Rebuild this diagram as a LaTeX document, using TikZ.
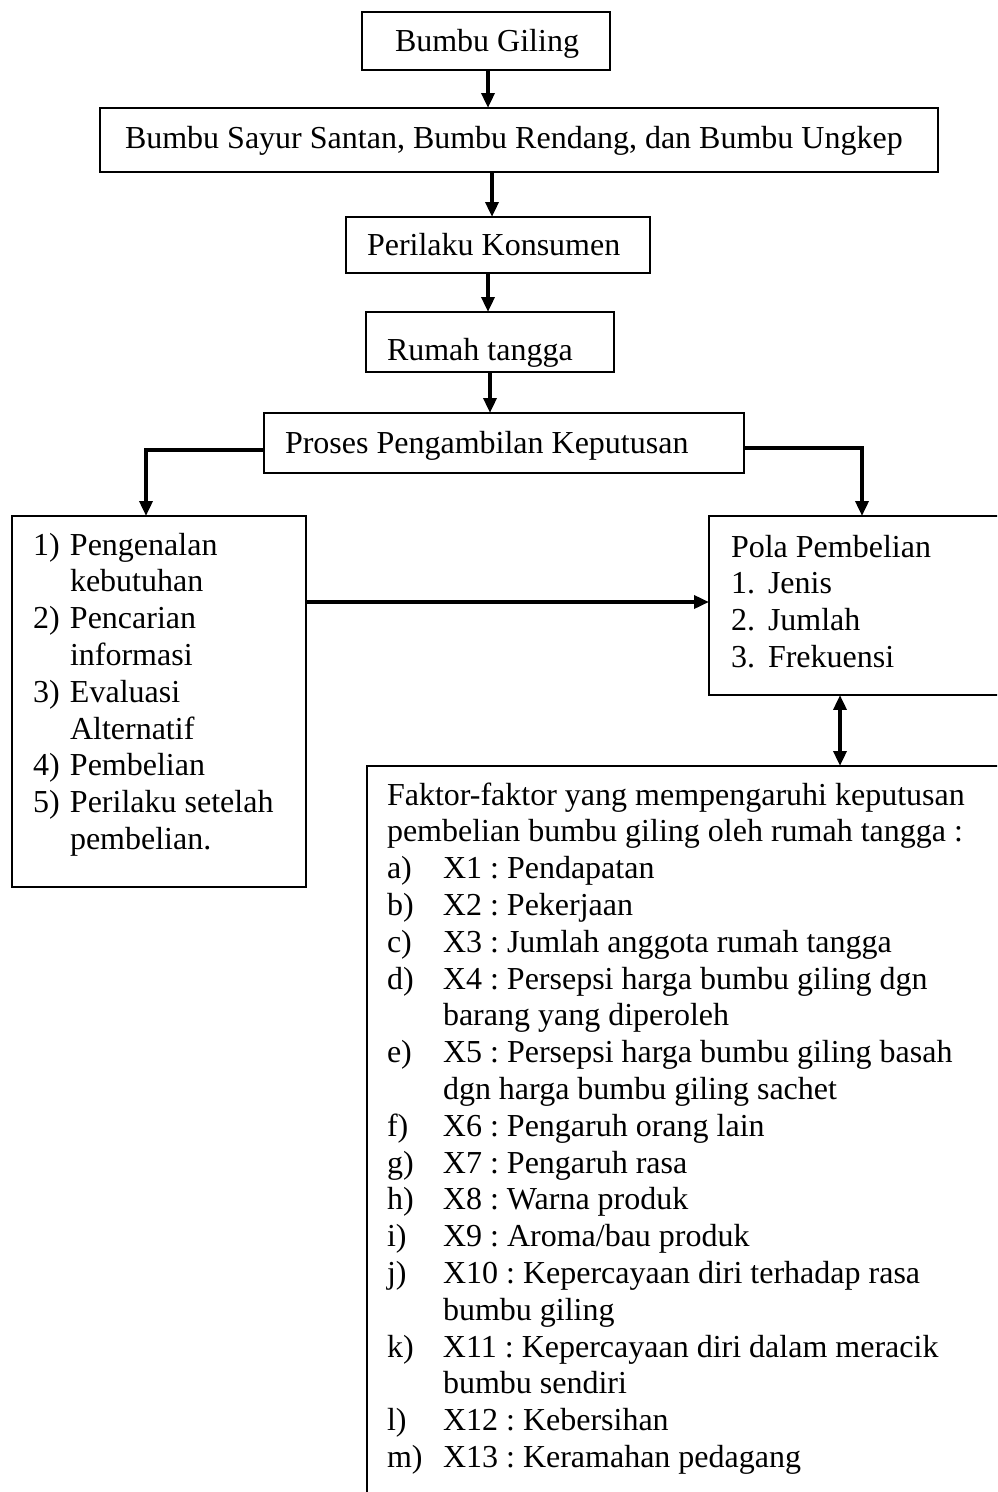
\documentclass[tikz,border=0pt]{standalone}
\usepackage{fontspec}
\setmainfont{Liberation Serif}
\usetikzlibrary{arrows.meta}
\frenchspacing
\begin{document}
\begin{tikzpicture}[x=0.375pt,y=-0.375pt,
  box/.style={draw,line width=0.8pt,inner sep=0pt,outer sep=0pt},
  txt/.style={inner sep=0pt,outer sep=0pt,anchor=base west,font=\fontsize{12}{13.8}\selectfont},
  arr/.style={line width=1.5pt,-{Triangle[length=5.6pt,width=4.8pt]}},
  darr/.style={line width=1.5pt,{Triangle[length=5.6pt,width=4.8pt]}-{Triangle[length=5.6pt,width=4.8pt]}}]
\useasboundingbox (0,0) rectangle (997,1492);
\fill[white] (0,0) rectangle (997,1492);
\clip (0,0) rectangle (997,1492);
% boxes
\node[box,minimum width=93pt,minimum height=21.75pt] (b1) at (486,41) {};
\node[box,minimum width=314.25pt,minimum height=24pt] (b2) at (519,140) {};
\node[box,minimum width=114pt,minimum height=21pt] (b3) at (498,245) {};
\node[box,minimum width=93pt,minimum height=22.5pt] (b4) at (490,342) {};
\node[box,minimum width=180pt,minimum height=22.5pt] (b5) at (504,443) {};
\node[box,minimum width=110.25pt,minimum height=139.1pt] (bl) at (159,701.5) {};
\node[box,minimum width=146.6pt,minimum height=67.1pt] (bp) at (904.5,605.5) {};
\node[box,minimum width=274.9pt,minimum height=312.75pt] (bb) at (733.5,1183) {};
% texts
\node[txt] (t1) at (395,52) {Bumbu Giling};
\node[txt] (t2) at (125,148) {Bumbu Sayur Santan, Bumbu Rendang, dan Bumbu Ungkep};
\node[txt] (t3) at (367,255) {Perilaku Konsumen};
\node[txt] (t4) at (387,360) {Rumah tangga};
\node[txt] (t5) at (285,453) {Proses Pengambilan Keputusan};
\node[txt] (tl) at (33,555) {\begin{tabular}[t]{@{}p{13.875pt}@{}l@{}}
1) & Pengenalan\\
 & kebutuhan\\
2) & Pencarian\\
 & informasi\\
3) & Evaluasi\\
 & Alternatif\\
4) & Pembelian\\
5) & Perilaku setelah\\
 & pembelian.
\end{tabular}};
\node[txt] (tp) at (731,557) {\begin{tabular}[t]{@{}p{13.875pt}@{}l@{}}
\multicolumn{2}{@{}l@{}}{Pola Pembelian}\\
1. & Jenis\\
2. & Jumlah\\
3. & Frekuensi
\end{tabular}};
\node[txt] (tb) at (387,805) {\begin{tabular}[t]{@{}p{21pt}@{}l@{}}
\multicolumn{2}{@{}l@{}}{Faktor-faktor yang mempengaruhi keputusan}\\
\multicolumn{2}{@{}l@{}}{pembelian bumbu giling oleh rumah tangga :}\\
a) & X1 : Pendapatan\\
b) & X2 : Pekerjaan\\
c) & X3 : Jumlah anggota rumah tangga\\
d) & X4 : Persepsi harga bumbu giling dgn\\
 & barang yang diperoleh\\
e) & X5 : Persepsi harga bumbu giling basah\\
 & dgn harga bumbu giling sachet\\
f) & X6 : Pengaruh orang lain\\
g) & X7 : Pengaruh rasa\\
h) & X8 : Warna produk\\
i) & X9 : Aroma/bau produk\\
j) & X10 : Kepercayaan diri terhadap rasa\\
 & bumbu giling\\
k) & X11 : Kepercayaan diri dalam meracik\\
 & bumbu sendiri\\
l) & X12 : Kebersihan\\
m) & X13 : Keramahan pedagang
\end{tabular}};
% helper coordinates
\coordinate (x1) at (488,0);
\coordinate (x2) at (492,0);
\coordinate (x3) at (488,0);
\coordinate (x4) at (490,0);
\coordinate (yl) at (0,450);
\coordinate (xl) at (146,0);
\coordinate (yr) at (0,448);
\coordinate (xr) at (862,0);
\coordinate (yh) at (0,602);
\coordinate (xd) at (840,0);
% connectors
\draw[arr] (b1.south -| x1) -- (b2.north -| x1);
\draw[arr] (b2.south -| x2) -- (b3.north -| x2);
\draw[arr] (b3.south -| x3) -- (b4.north -| x3);
\draw[arr] (b4.south -| x4) -- (b5.north -| x4);
\draw[arr] (b5.west |- yl) -| (bl.north -| xl);
\draw[arr] (b5.east |- yr) -| (bp.north -| xr);
\draw[arr] (bl.east |- yh) -- (bp.west |- yh);
\draw[darr] (bp.south -| xd) -- (bb.north -| xd);
\end{tikzpicture}
\end{document}
